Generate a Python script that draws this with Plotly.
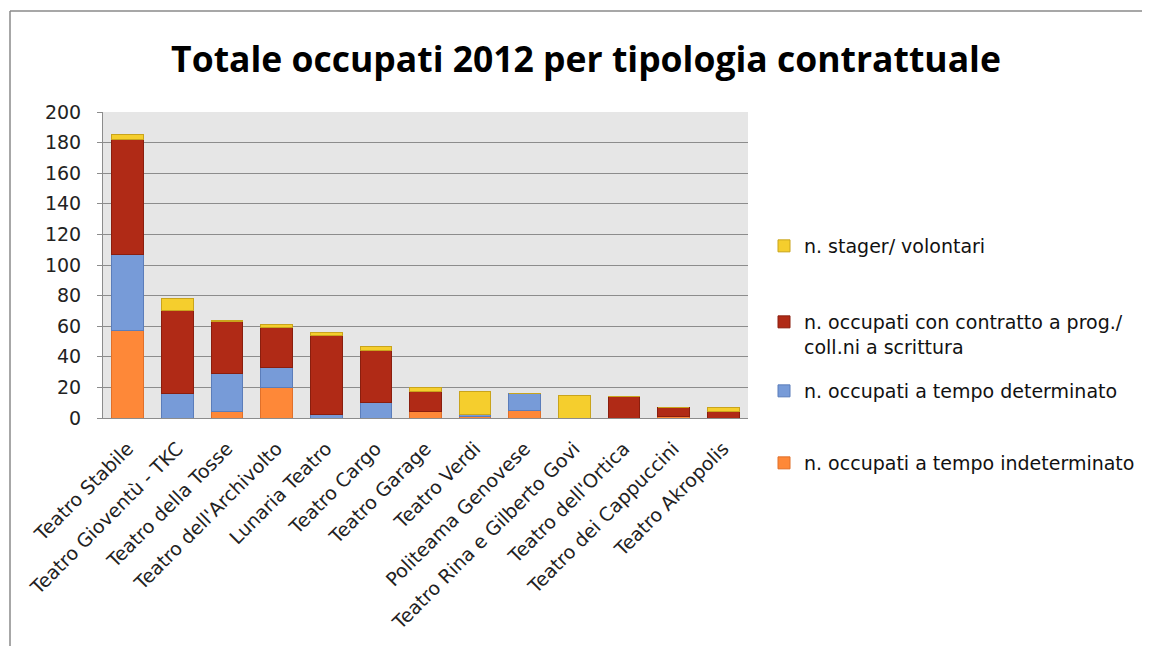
import plotly.graph_objects as go

categories = ["Teatro Stabile", "Teatro Gioventù - TKC", "Teatro della Tosse",
              "Teatro dell'Archivolto", "Lunaria Teatro", "Teatro Cargo", "Teatro Garage",
              "Teatro Verdi", "Politeama Genovese", "Teatro Rina e Gilberto Govi",
              "Teatro dell'Ortica", "Teatro dei Cappuccini", "Teatro Akropolis"]

indeterminato = [57, 0, 4, 20, 0, 0, 4, 1, 5, 0, 0, 1, 0]
determinato = [50, 16, 25, 13, 2, 10, 0, 1, 11, 0, 0, 0, 0]
contratto_prog = [75, 54, 34, 26, 52, 34, 13, 0, 0, 0, 14, 6, 4]
stager = [3, 8, 1, 2, 2, 3, 3, 15, 0, 15, 0, 0, 3]

series_names = ["n. occupati a tempo indeterminato", "n. occupati a tempo determinato",
                "n. occupati con contratto a prog./<br>coll.ni a scrittura", "n. stager/ volontari"]
series_values = [indeterminato, determinato, contratto_prog, stager]
fill_colors = ["#FE8838", "#779BD8", "#B02A16", "#F5CE2D"]
line_colors = ["#E0702A", "#5B7DBA", "#8A1E0E", "#C9A41C"]
legend_ids = ["legend4", "legend3", "legend2", "legend"]

FONT = "DejaVu Sans"

# page has an 8px body margin: figure coords = screen coords - 8
OFF = 8
W, H = 1150, 646
# desired plot area in screen pixels
SL, SR_edge, ST, SB_edge = 103, 748, 112, 418
L = SL - OFF
T = ST - OFF
R = W - (SR_edge - OFF)
B = H - (SB_edge - OFF)
pw, ph = W - L - R, H - T - B


def py(screen):
    return (SB_edge - screen) / ph


def px(screen):
    return (screen - SL) / pw


fig = go.Figure()
for name, vals, fc, lc, lg in zip(series_names, series_values, fill_colors, line_colors, legend_ids):
    fig.add_trace(go.Bar(
        x=categories, y=vals, name=name,
        marker=dict(color=fc, line=dict(color=lc, width=1)),
        legend=lg,
    ))

legend_common = dict(x=px(764), xanchor="left", yanchor="top",
                     font=dict(family=FONT, size=19, color="#111111"),
                     valign="top", bgcolor="rgba(0,0,0,0)")
legend_items = {"legend": 246, "legend2": 322, "legend3": 391, "legend4": 463}

layout_legends = {k: dict(legend_common, y=py(v - 19)) for k, v in legend_items.items()}

fig.update_layout(
    barmode="stack",
    bargap=0.36,
    width=W, height=H,
    margin=dict(l=L, r=R, t=T, b=B, autoexpand=False),
    paper_bgcolor="white",
    plot_bgcolor="#E6E6E6",
    font=dict(family=FONT, color="#222222"),
    title=dict(text="<b>Totale occupati 2012 per tipologia contrattuale</b>",
               x=(586 - OFF) / W, xanchor="center", y=1 - (60 - OFF) / H, yanchor="middle",
               font=dict(family="Open Sans", size=35.5, color="black")),
    showlegend=True,
    **layout_legends,
)
fig.update_yaxes(range=[0, 200], dtick=20, showgrid=True, gridcolor="#8C8C8C", gridwidth=1,
                 showline=True, linecolor="#8C8C8C", linewidth=1,
                 ticks="outside", ticklen=5, tickcolor="#8C8C8C", ticklabelstandoff=12,
                 tickfont=dict(family=FONT, size=19, color="#222222"), zeroline=False,
                 automargin=False)
fig.update_xaxes(tickangle=-45, showline=True, linecolor="#8C8C8C", linewidth=1,
                 ticklabelstandoff=11,
                 tickfont=dict(family=FONT, size=19, color="#222222"), automargin=False)

# chart frame: only left and top edges are visible in the reference
frame = dict(color="#8A8A8A", width=1.5)
fig.add_shape(type="line", xref="paper", yref="paper",
              x0=px(10), x1=px(10), y0=py(670), y1=py(11), line=frame, layer="below")
fig.add_shape(type="line", xref="paper", yref="paper",
              x0=px(10), x1=px(1200), y0=py(11), y1=py(11), line=frame, layer="below")

fig.write_html("out.html", config={"displayModeBar": False})
